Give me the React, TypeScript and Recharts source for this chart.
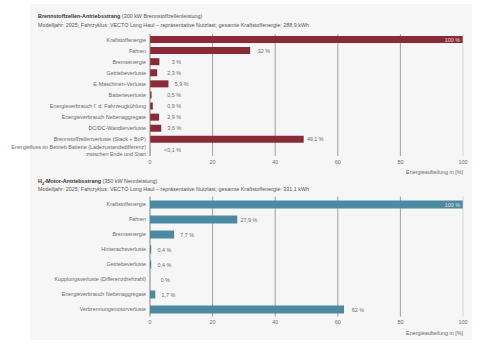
import React from 'react';
import {
	Bar,
	BarChart,
	CartesianGrid,
	LabelList,
	ReferenceLine,
	XAxis,
	YAxis,
} from 'recharts';

const fcCategories = [
	'Kraftstoffenergie',
	'Fahren',
	'Bremsenergie',
	'Getriebeverluste',
	'E-Maschinen-Verluste',
	'Batterieverluste',
	'Energieverbrauch f. d. Fahrzeugkühlung',
	'Energieverbrauch Nebenaggregate',
	'DC/DC-Wandlerverluste',
	'Brennstoffzellenverluste (Stack + BoP)',
	'Energiefluss im Betrieb Batterie (Ladezustandsdifferenz)\nzwischen Ende und Start',
];
const fcValues = [100, 32, 3, 2.3, 5.9, 0.5, 0.9, 2.9, 3.6, 49.1, 0.05];
const fcLabels = ['100 %', '32 %', '3 %', '2,3 %', '5,9 %', '0,5 %', '0,9 %', '2,9 %', '3,6 %', '49,1 %', '<0,1 %'];

const h2Categories = [
	'Kraftstoffenergie',
	'Fahren',
	'Bremsenergie',
	'Hinterachsverluste',
	'Getriebeverluste',
	'Kupplungsverluste (Differenzdrehzahl)',
	'Energieverbrauch Nebenaggregate',
	'Verbrennungsmotorverluste',
];
const h2Values = [100, 27.9, 7.7, 0.4, 0.4, 0, 1.7, 62];
const h2Labels = ['100 %', '27,9 %', '7,7 %', '0,4 %', '0,4 %', '0 %', '1,7 %', '62 %'];

const xTicks = [0, 20, 40, 60, 80, 100];

const FONT = '"Liberation Sans", Arial, sans-serif';
const TXT = '#6a6a6a';

const CatTick = (props: any) => {
	const { x, y, payload } = props;
	const lines = String(payload.value).split('\n');
	const lh = 6.4;
	return (
		<text x={x} y={y} textAnchor='end' fontSize={5.4} fill={TXT} fontFamily={FONT}>
			{lines.map((l, i) => (
				<tspan key={i} x={x} dy={i === 0 ? 2 - ((lines.length - 1) * lh) / 2 : lh}>
					{l}
				</tspan>
			))}
		</text>
	);
};

// label string comes in as value, so skipped zero bars don't shift the texts
const valueLabel = (p: any, minEnd: number) => {
	const { x, y, width, height, value } = p;
	const end = Number(x) + Number(width);
	const cy = Number(y) + Number(height) / 2 + 2;
	const text = String(value);
	if (text === '100 %') {
		return (
			<text x={end - 3} y={cy} textAnchor='end' fontSize={5.4} fill='#f2dede' fontFamily={FONT}>
				{text}
			</text>
		);
	}
	return (
		<text x={Math.max(end + 20, minEnd)} y={cy} textAnchor='end' fontSize={5.4} fill={TXT} fontFamily={FONT}>
			{text}
		</text>
	);
};

interface PanelProps {
	categories: string[];
	values: number[];
	labels: string[];
	color: string;
	top: number;
	marginTop: number;
	marginBottom: number;
	barSize: number;
	minEnd: number;
}

const EnergyBars = ({ categories, values, labels, color, top, marginTop, marginBottom, barSize, minEnd }: PanelProps) => {
	const data = categories.map((name, i) => ({ name, value: values[i], label: labels[i] }));
	return (
		<BarChart
			width={500}
			height={180}
			data={data}
			layout='vertical'
			margin={{ top: marginTop, right: 37, bottom: marginBottom, left: 0 }}
			style={{ position: 'absolute', left: 0, top }}
		>
			<CartesianGrid horizontal={false} verticalValues={[20, 40, 60, 80]} stroke='#8c8c8c' strokeWidth={0.8} />
			<ReferenceLine x={100} stroke='#cfcfcf' strokeWidth={0.8} />
			<XAxis
				type='number'
				domain={[0, 100]}
				ticks={xTicks}
				tickLine={false}
				axisLine={false}
				tickSize={0}
				tickMargin={4}
				height={18}
				tick={{ fontSize: 5.4, fill: TXT, fontFamily: FONT }}
				label={{
					value: 'Energieaufteilung in [%]',
					position: 'insideBottomRight',
					offset: 0,
					fontSize: 5.4,
					fill: TXT,
					fontFamily: FONT,
				}}
			/>
			<XAxis
				xAxisId='top'
				orientation='top'
				type='number'
				domain={[0, 100]}
				height={0}
				tick={false}
				tickLine={false}
				axisLine={{ stroke: '#b9b0b0', strokeWidth: 0.8 }}
			/>
			<YAxis
				type='category'
				dataKey='name'
				width={150}
				tickLine={false}
				axisLine={{ stroke: '#777', strokeWidth: 0.9 }}
				tickSize={0}
				tickMargin={4}
				interval={0}
				tick={<CatTick />}
			/>
			<Bar
				dataKey='value'
				fill={color}
				barSize={barSize}
				minPointSize={(v: number) => (v === 0 ? 0.01 : 0)}
				isAnimationActive={false}
			>
				<LabelList dataKey='label' content={(p: any) => valueLabel(p, minEnd)} />
			</Bar>
		</BarChart>
	);
};

const titleStyle: React.CSSProperties = {
	position: 'absolute',
	left: 38,
	fontFamily: FONT,
	fontSize: 5.4,
	color: '#555',
	whiteSpace: 'nowrap',
	lineHeight: '8px',
};

export default function App() {
	return (
		<div style={{ position: 'absolute', left: 0, top: 0, width: 500, height: 353, background: '#fff' }}>
			<div style={{ position: 'absolute', left: 30, top: 4, width: 442, height: 336, background: '#f6f6f6' }} />
			<div style={{ ...titleStyle, top: 12 }}>
				<b style={{ color: '#333' }}>Brennstoffzellen-Antriebsstrang</b> (300 kW Brennstoffzellenleistung)
			</div>
			<div style={{ ...titleStyle, top: 20.5 }}>
				Modelljahr: 2025; Fahrzyklus: VECTO Long Haul – repräsentative Nutzlast; gesamte Kraftstoffenergie: 288,9 kWh
			</div>
			<EnergyBars
				categories={fcCategories}
				values={fcValues}
				labels={fcLabels}
				color='#8a2a36'
				top={0}
				marginTop={34}
				marginBottom={6}
				barSize={7}
				minEnd={181}
			/>
			<div style={{ ...titleStyle, top: 176.5 }}>
				<b style={{ color: '#333' }}>
					H<sub style={{ fontSize: 4 }}>2</sub>-Motor-Antriebsstrang
				</b>{' '}
				(350 kW Nennleistung)
			</div>
			<div style={{ ...titleStyle, top: 184.5 }}>
				Modelljahr: 2025; Fahrzyklus: VECTO Long Haul – repräsentative Nutzlast; gesamte Kraftstoffenergie: 331,1 kWh
			</div>
			<EnergyBars
				categories={h2Categories}
				values={h2Values}
				labels={h2Labels}
				color='#4b8aa0'
				top={160}
				marginTop={36.5}
				marginBottom={5.5}
				barSize={8}
				minEnd={0}
			/>
		</div>
	);
}
